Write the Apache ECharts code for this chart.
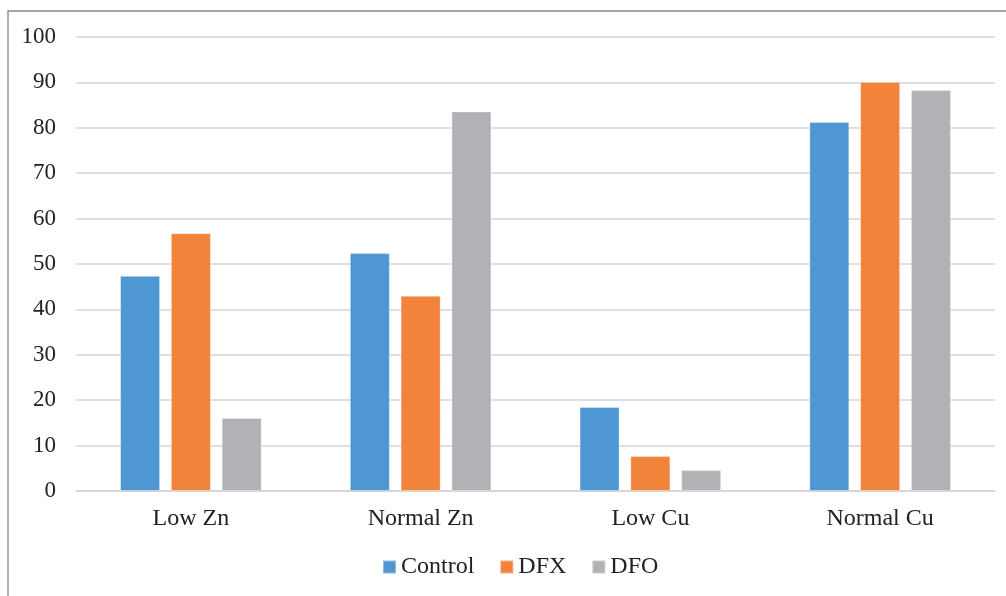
<!DOCTYPE html>
<html>
<head>
<meta charset="utf-8">
<script src="https://cdn.jsdelivr.net/npm/echarts@6/dist/echarts.min.js"></script>
<style>
html,body{margin:0;padding:0;background:#fff;}
#chart{width:1006px;height:596px;}
</style>
</head>
<body>
<div id="chart"></div>
<script>
const categories = ['Low Zn', 'Normal Zn', 'Low Cu', 'Normal Cu'];
const controlValues = [47.4, 52.4, 18.5, 81.3];
const dfxValues = [56.8, 43.0, 7.7, 90.1];
const dfoValues = [16.1, 83.6, 4.6, 88.3];
const seriesNames = ['Control', 'DFX', 'DFO'];
const yTicks = { min: 0, max: 100, interval: 10 };

const colors = ['#4F97D3', '#F1833A', '#B1B2B5'];
const font = 'Liberation Serif';
const chart = echarts.init(document.getElementById('chart'), null, { renderer: 'canvas' });

const mkSeries = (name, data, i) => ({
  name: name,
  type: 'bar',
  data: data,
  barWidth: 40,
  barGap: '27%',
  itemStyle: { color: colors[i], borderColor: 'rgba(255,255,255,0.35)', borderWidth: 1 },
  emphasis: { disabled: true }
});

chart.setOption({
  animation: false,
  textStyle: { fontFamily: font },
  graphic: [{
    type: 'rect',
    shape: { x: 8, y: 11, width: 1200, height: 800 },
    style: { fill: 'none', stroke: '#888888', lineWidth: 1.3 },
    silent: true
  }],
  grid: { left: 76, right: 11, top: 37, bottom: 105, containLabel: false },
  legend: {
    data: seriesNames,
    left: 382,
    top: 555,
    padding: 0,
    icon: 'rect',
    itemWidth: 13,
    itemHeight: 13,
    itemGap: 25,
    textStyle: { fontFamily: font, fontSize: 24, color: '#222' }
  },
  xAxis: {
    type: 'category',
    data: categories,
    axisLine: { show: true, lineStyle: { color: '#d4d4d4', width: 1.5 } },
    axisTick: { show: false },
    axisLabel: { fontFamily: font, fontSize: 24, color: '#222', margin: 16 },
    splitLine: { show: false }
  },
  yAxis: {
    type: 'value',
    min: yTicks.min,
    max: yTicks.max,
    interval: yTicks.interval,
    axisLine: { show: false },
    axisTick: { show: false },
    axisLabel: { fontFamily: font, fontSize: 23, color: '#222', margin: 20 },
    splitLine: { show: true, lineStyle: { color: '#d4d4d4', width: 1.5 } }
  },
  series: [
    mkSeries(seriesNames[0], controlValues, 0),
    mkSeries(seriesNames[1], dfxValues, 1),
    mkSeries(seriesNames[2], dfoValues, 2)
  ]
});
</script>
</body>
</html>
